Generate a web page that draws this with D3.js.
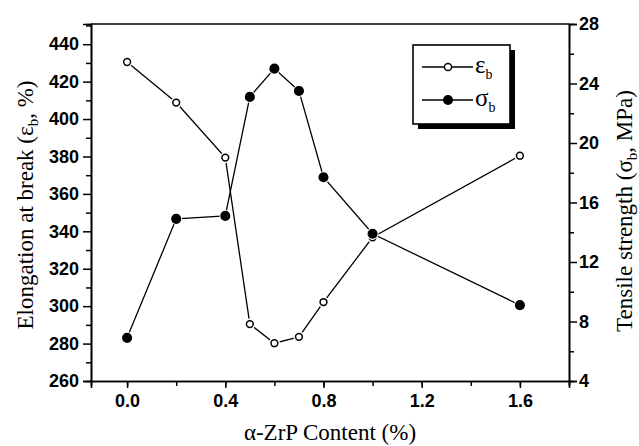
<!DOCTYPE html>
<html>
<head>
<meta charset="utf-8">
<script src="https://cdn.jsdelivr.net/npm/d3@7"></script>
<style>
body { margin: 0; background: #fff; }
.tk text { font-family: "Liberation Sans", Arial, sans-serif; font-weight: bold; font-size: 18px; }
.ttl { font-family: "Liberation Serif", "Times New Roman", serif; font-size: 23px; }
</style>
</head>
<body>
<div id="svg"></div>
<script>
// data
var content = [0.0, 0.2, 0.4, 0.5, 0.6, 0.7, 0.8, 1.0, 1.6];
var elong = [430.5, 408.8, 379.4, 290.4, 280.2, 283.6, 302.2, 336.8, 380.4];
var tensile = [6.9, 14.9, 15.1, 23.1, 25.0, 23.5, 17.7, 13.9, 9.1];

var xTicks = [0.0, 0.4, 0.8, 1.2, 1.6];
var yLeftTicks = [260, 280, 300, 320, 340, 360, 380, 400, 420, 440];
var yRightTicks = [4, 8, 12, 16, 20, 24, 28];

var margin = {top: 24, left: 91, right: 70, bot: 65};
var W = 639, H = 446;
var pw = W - margin.left - margin.right, ph = H - margin.top - margin.bot;

var x = d3.scaleLinear().domain([-0.147, 1.8]).range([0, pw]);
var yl = d3.scaleLinear().domain([260, 450.8]).range([ph, 0]);
var yr = d3.scaleLinear().domain([4, 28]).range([ph, 0]);

var svg = d3.select("#svg").append("svg")
    .attr("width", W).attr("height", H);
var g = svg.append("g")
    .attr("transform", "translate(" + margin.left + "," + margin.top + ")");

// top border
g.append("line")
    .attr("x1", 0).attr("x2", pw).attr("y1", 0).attr("y2", 0)
    .attr("stroke", "black").attr("stroke-width", 1.6);

function style_axis(sel) {
    sel.attr("class", "tk");
    sel.select(".domain").attr("stroke-width", 1.6);
    sel.selectAll(".tick line").attr("stroke-width", 1.5);
}

// minor ticks first, then major
g.append("g").attr("transform", "translate(0," + ph + ")")
    .call(d3.axisBottom(x).tickValues(d3.range(0, 1.81, 0.2)).tickSize(5).tickFormat(""))
    .call(style_axis);
g.append("g").attr("transform", "translate(0," + ph + ")")
    .call(d3.axisBottom(x).tickValues(xTicks).tickSize(7).tickPadding(6).tickFormat(d3.format(".1f")))
    .call(style_axis);

g.append("g")
    .call(d3.axisLeft(yl).tickValues(d3.range(270, 451, 20)).tickSize(5).tickFormat(""))
    .call(style_axis);
g.append("g")
    .call(d3.axisLeft(yl).tickValues(yLeftTicks).tickSize(8).tickPadding(4))
    .call(style_axis);

g.append("g").attr("transform", "translate(" + pw + ",0)")
    .call(d3.axisRight(yr).tickValues(d3.range(6, 27, 4)).tickSize(5).tickFormat(""))
    .call(style_axis);
g.append("g").attr("transform", "translate(" + pw + ",0)")
    .call(d3.axisRight(yr).tickValues(yRightTicks).tickSize(8).tickPadding(2))
    .call(style_axis);

// series
var ptsE = content.map(function(c, i) { return [x(c), yl(elong[i])]; });
var ptsS = content.map(function(c, i) { return [x(c), yr(tensile[i])]; });

function draw_series(pts, filled) {
    g.append("path")
        .attr("d", d3.line()(pts))
        .attr("fill", "none").attr("stroke", "black").attr("stroke-width", 1.3);
    g.selectAll(null).data(pts).enter().append("circle")
        .attr("cx", function(d) { return d[0]; })
        .attr("cy", function(d) { return d[1]; })
        .attr("r", filled ? 6 : 5.5)
        .attr("fill", "white");
    g.selectAll(null).data(pts).enter().append("circle")
        .attr("cx", function(d) { return d[0]; })
        .attr("cy", function(d) { return d[1]; })
        .attr("r", filled ? 4.3 : 3.4)
        .attr("fill", filled ? "black" : "white")
        .attr("stroke", "black").attr("stroke-width", 1.5);
}
draw_series(ptsE, false);
draw_series(ptsS, true);

// legend
var lg = svg.append("g").attr("transform", "translate(413,45)");
lg.append("rect").attr("x", 5).attr("y", 5).attr("width", 97).attr("height", 79).attr("fill", "black");
lg.append("rect").attr("x", 0).attr("y", 0).attr("width", 97).attr("height", 79)
    .attr("fill", "white").attr("stroke", "black").attr("stroke-width", 1.6);
var legendItems = [{sym: "ε", filled: false}, {sym: "σ", filled: true}];
legendItems.forEach(function(it, i) {
    var yy = 22 + i * 33;
    lg.append("line").attr("x1", 9).attr("x2", 60).attr("y1", yy).attr("y2", yy)
        .attr("stroke", "black").attr("stroke-width", 1.3);
    lg.append("circle").attr("cx", 35).attr("cy", yy).attr("r", it.filled ? 4.3 : 3.6)
        .attr("fill", it.filled ? "black" : "white").attr("stroke", "black").attr("stroke-width", 1.5);
    var t = lg.append("text").attr("class", "ttl").attr("x", 62).attr("y", yy + 6)
        .style("font-size", "25px");
    t.append("tspan").text(it.sym);
    t.append("tspan").attr("dy", 6).style("font-size", "14px").text("b");
});

// axis titles
svg.append("text").attr("class", "ttl")
    .attr("x", margin.left + pw / 2).attr("y", 440).attr("text-anchor", "middle")
    .text("α-ZrP Content (%)");

var ylt = svg.append("text").attr("class", "ttl")
    .attr("transform", "translate(33," + 205 + ") rotate(-90)")
    .attr("text-anchor", "middle");
ylt.append("tspan").text("Elongation at break (ε");
ylt.append("tspan").attr("dy", 5).style("font-size", "15px").text("b");
ylt.append("tspan").attr("dy", -5).text(", %)");

var yrt = svg.append("text").attr("class", "ttl")
    .attr("transform", "translate(632," + 211 + ") rotate(-90)")
    .attr("text-anchor", "middle");
yrt.append("tspan").text("Tensile strength (σ");
yrt.append("tspan").attr("dy", 5).style("font-size", "15px").text("b");
yrt.append("tspan").attr("dy", -5).text(", MPa)");
</script>
</body>
</html>
